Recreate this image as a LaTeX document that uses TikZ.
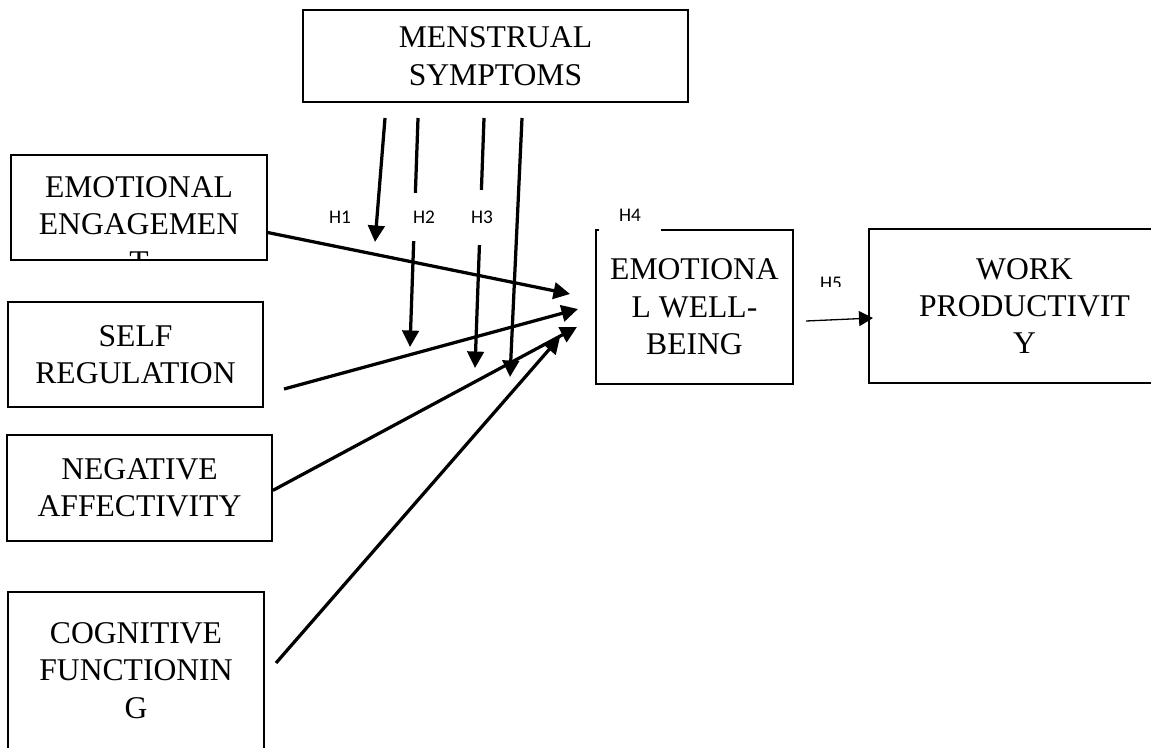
\documentclass[tikz,border=0pt]{standalone}
\usepackage{fontspec}
\setmainfont{Liberation Serif}
\newfontfamily\hfont{Carlito}
\usetikzlibrary{arrows.meta}
\begin{document}
\begin{tikzpicture}
        [x=0.02cm, y=-0.02cm,
        box/.style={draw, line width=0.04cm, inner sep=0pt, align=center, font=\fontsize{18}{21.3}\selectfont},
        txt/.style={inner sep=0pt, align=center, font=\fontsize{18}{21.3}\selectfont},
        hyp/.style={inner sep=0pt, font=\hfont\fontsize{11}{12}\selectfont},
        arr/.style={line width=0.065cm, -{Triangle[length=0.33cm, width=0.33cm]}},
        thinArr/.style={line width=0.026cm, -{Triangle[length=0.28cm, width=0.3cm]}}]
        \clip (0,0) rectangle (1151,747);
        \node[box, minimum width=7.7cm, minimum height=1.84cm] (MS) at (495.5,56) {MENSTRUAL\\SYMPTOMS};
        \node[box, minimum width=5.12cm, minimum height=2.1cm] (EE) at (139,207.5) {};
        \node[box, minimum width=5.1cm, minimum height=2.1cm] (SR) at (135.5,354.5) {SELF\\REGULATION};
        \node[box, minimum width=5.3cm, minimum height=2.12cm] (NA) at (139.5,488) {NEGATIVE\\AFFECTIVITY};
        \node[box, minimum width=5.12cm, minimum height=4.16cm] (CF) at (136,696) {};
        \node[box, minimum width=3.94cm, minimum height=3.08cm] (EWB) at (694.5,307) {EMOTIONA\\L WELL-\\BEING};
        \node[box, minimum width=6.22cm, minimum height=3.08cm] (WP) at (1024.5,306) {WORK\\PRODUCTIVIT\\Y};
        
        % texts cut by the box
        \begin{scope}
            \clip (EE.south west) rectangle (EE.north east);
            \node[txt, anchor=north] (EEt) at ([yshift=-0.44cm]EE.north) {EMOTIONAL\\ENGAGEMEN\\T};
        \end{scope}
        \node[txt, anchor=north] (CFt) at ([yshift=-0.62cm]CF.north) {COGNITIVE\\FUNCTIONIN\\G};
        
        % free ends
        \coordinate (ms1) at (385,118);
        \coordinate (ms2) at (418,118);
        \coordinate (ms3) at (484,118);
        \coordinate (ms4) at (522,118);
        \coordinate (t1) at (375,242);
        \coordinate (t2) at (410,347);
        \coordinate (t3) at (475,368);
        \coordinate (t4) at (510,377);
        \coordinate (s0) at (284,389);
        \coordinate (c0) at (276,663);
        \coordinate (e1) at (570,294);
        \coordinate (e2) at (578,309);
        \coordinate (e3) at (577,327);
        \coordinate (e4) at (560,337);
        \coordinate (w0) at (806,321);
        \coordinate (w1) at (873,318);
        
        \draw[arr] (ms1) -- (t1);
        \draw[arr] (ms2) -- (t2);
        \draw[arr] (ms3) -- (t3);
        \draw[arr] (ms4) -- (t4);
        
        \draw[arr] (EE.-11) -- (e1);
        \draw[arr] (s0) -- (e2);
        \draw[arr] (NA.-1.5) -- (e3);
        \draw[arr] (c0) -- (e4);
        \draw[thinArr] (w0) -- (w1);
        
        \node[hyp] (H1) at (340,217) {H1};
        \node[hyp, fill=white, minimum width=1cm, minimum height=0.96cm] (H2) at (424,217) {H2};
        \node[hyp, fill=white, minimum width=0.8cm, minimum height=1.1cm] (H3) at (482,217.5) {H3};
        \node[hyp, fill=white, minimum width=1.24cm, minimum height=0.68cm] (H4) at (630,215) {H4};
        \begin{scope}
            \clip (800,260) rectangle (860,286);
            \node[hyp] (H5) at (831,283) {H5};
        \end{scope}
    
    \end{tikzpicture}
\end{document}
